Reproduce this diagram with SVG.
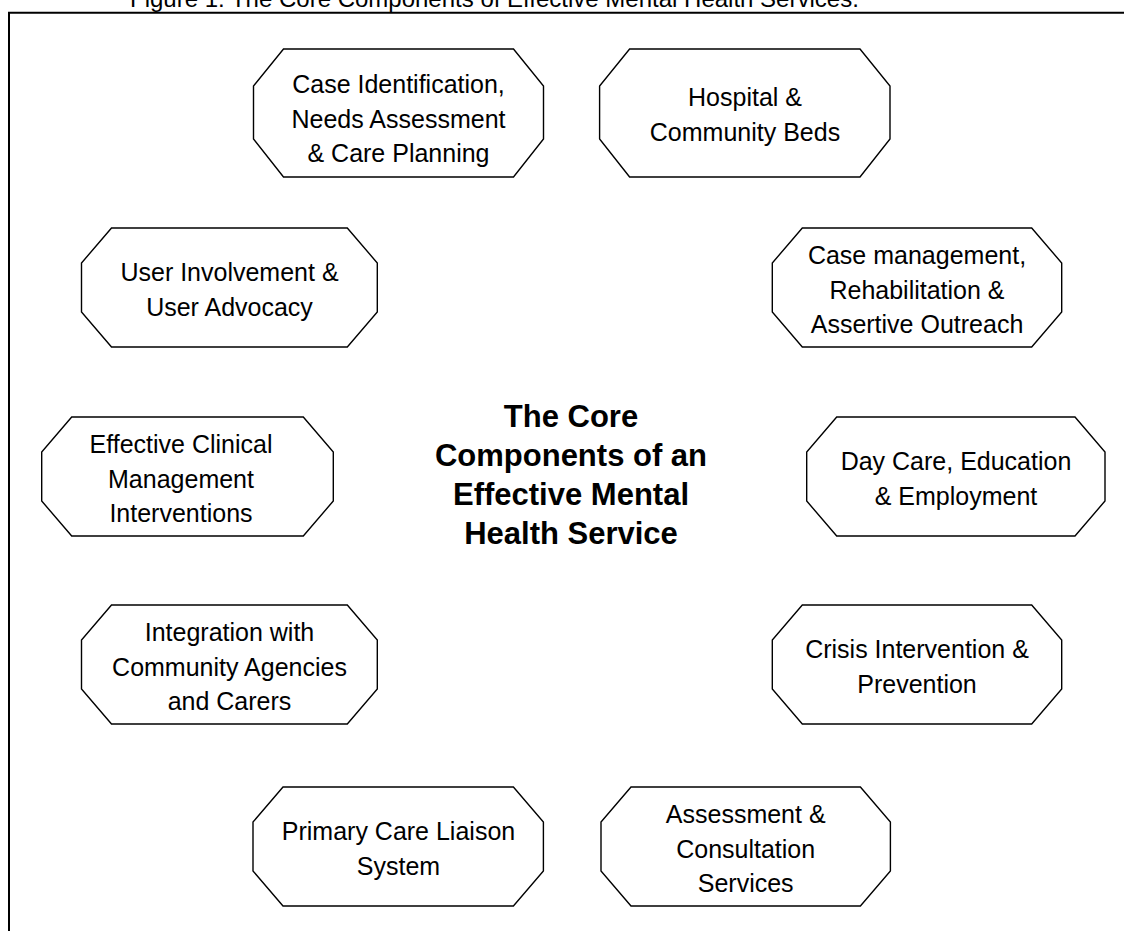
<svg xmlns="http://www.w3.org/2000/svg" width="1124" height="931" viewBox="0 0 1124 931">
<defs>
<style>
.oct{fill:#fff;stroke:#000;stroke-width:1.4}
.t{font-family:"Liberation Sans",Arial,sans-serif;font-size:25px;fill:#000;text-anchor:middle}
.c{font-family:"Liberation Sans",Arial,sans-serif;font-size:31px;font-weight:bold;fill:#000;text-anchor:middle}
.cap{font-family:"Liberation Sans",Arial,sans-serif;font-size:24px;fill:#000}
</style>
</defs>
<rect width="1124" height="931" fill="#fff"/>
<text class="cap" x="130" y="7">Figure 1: The Core Components of Effective Mental Health Services.</text>
<g id="frame"><path d="M9,931 V12.7 H1124" fill="none" stroke="#000" stroke-width="2"/></g>
<g id="connectors"></g>
<g id="center"><text class="c" x="571" y="427">The Core</text><text class="c" x="571" y="466">Components of an</text><text class="c" x="571" y="505">Effective Mental</text><text class="c" x="571" y="544">Health Service</text></g>
<g id="n1"><polygon class="oct" points="283.5,49 513.5,49 543.5,86 543.5,139 513.5,177 283.5,177 253.5,139 253.5,86"/><text class="t" x="398.5" y="93">Case Identification,</text><text class="t" x="398.5" y="127.5">Needs Assessment</text><text class="t" x="398.5" y="162">&amp; Care Planning</text></g>
<g id="n2"><polygon class="oct" points="629.6,49 860,49 890,86 890,139 860,177 629.6,177 599.6,139 599.6,86"/><text class="t" x="745" y="106">Hospital &amp;</text><text class="t" x="745" y="141">Community Beds</text></g>
<g id="n3"><polygon class="oct" points="111.5,228 347.3,228 377.3,263 377.3,312 347.3,347 111.5,347 81.5,312 81.5,263"/><text class="t" x="229.5" y="281.2">User Involvement &amp;</text><text class="t" x="229.5" y="315.7">User Advocacy</text></g>
<g id="n4"><polygon class="oct" points="802.3,228 1031.7,228 1061.7,263 1061.7,312 1031.7,347 802.3,347 772.3,312 772.3,263"/><text class="t" x="917" y="264">Case management,</text><text class="t" x="917" y="298.5">Rehabilitation &amp;</text><text class="t" x="917" y="333">Assertive Outreach</text></g>
<g id="n5"><polygon class="oct" points="71.7,417 303.3,417 333.3,452 333.3,501 303.3,536 71.7,536 41.7,501 41.7,452"/><text class="t" x="181" y="453">Effective Clinical</text><text class="t" x="181" y="487.5">Management</text><text class="t" x="181" y="522">Interventions</text></g>
<g id="n6"><polygon class="oct" points="836.7,417 1075,417 1105,452 1105,501 1075,536 836.7,536 806.7,501 806.7,452"/><text class="t" x="956" y="470.2">Day Care, Education</text><text class="t" x="956" y="504.7">&amp; Employment</text></g>
<g id="n7"><polygon class="oct" points="111.5,605 347.3,605 377.3,640 377.3,689 347.3,724 111.5,724 81.5,689 81.5,640"/><text class="t" x="229.5" y="641">Integration with</text><text class="t" x="229.5" y="675.5">Community Agencies</text><text class="t" x="229.5" y="710">and Carers</text></g>
<g id="n8"><polygon class="oct" points="802.3,605 1031.7,605 1061.7,640 1061.7,689 1031.7,724 802.3,724 772.3,689 772.3,640"/><text class="t" x="917" y="658.2">Crisis Intervention &amp;</text><text class="t" x="917" y="692.7">Prevention</text></g>
<g id="n9"><polygon class="oct" points="283,787 513.4,787 543.4,822 543.4,871 513.4,906 283,906 253,871 253,822"/><text class="t" x="398.5" y="840.2">Primary Care Liaison</text><text class="t" x="398.5" y="874.7">System</text></g>
<g id="n10"><polygon class="oct" points="631,787 860.4,787 890.4,822 890.4,871 860.4,906 631,906 601,871 601,822"/><text class="t" x="745.7" y="823">Assessment &amp;</text><text class="t" x="745.7" y="857.5">Consultation</text><text class="t" x="745.7" y="892">Services</text></g>
</svg>
